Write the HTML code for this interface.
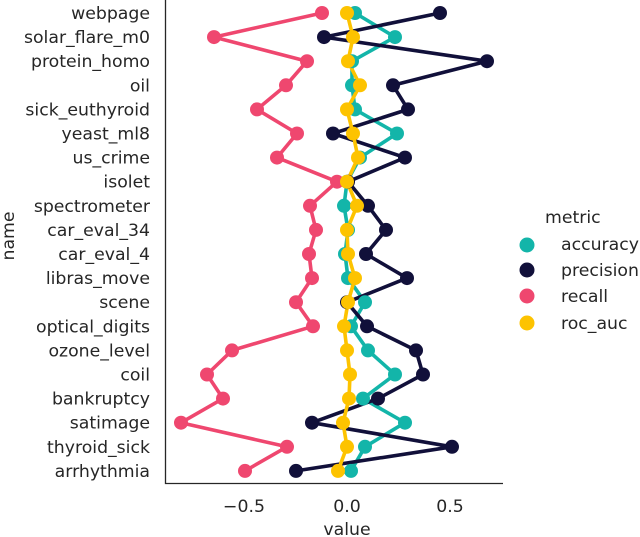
<!DOCTYPE html>
<html><head><meta charset="utf-8"><style>
html,body{margin:0;padding:0;background:#fff;}
svg{display:block;}
text{font-family:"DejaVu Sans","Liberation Sans",sans-serif;font-size:17.3px;fill:#262626;}
</style></head><body>
<svg width="640" height="537" viewBox="0 0 640 537" xmlns="http://www.w3.org/2000/svg">
<g text-anchor="end">
<text x="150" y="19">webpage</text>
<text x="150" y="43.1">solar_flare_m0</text>
<text x="150" y="67.2">protein_homo</text>
<text x="150" y="91.3">oil</text>
<text x="150" y="115.4">sick_euthyroid</text>
<text x="150" y="139.5">yeast_ml8</text>
<text x="150" y="163.6">us_crime</text>
<text x="150" y="187.7">isolet</text>
<text x="150" y="211.8">spectrometer</text>
<text x="150" y="235.9">car_eval_34</text>
<text x="150" y="260">car_eval_4</text>
<text x="150" y="284.1">libras_move</text>
<text x="150" y="308.2">scene</text>
<text x="150" y="332.3">optical_digits</text>
<text x="150" y="356.4">ozone_level</text>
<text x="150" y="380.5">coil</text>
<text x="150" y="404.6">bankruptcy</text>
<text x="150" y="428.7">satimage</text>
<text x="150" y="452.8">thyroid_sick</text>
<text x="150" y="476.9">arrhythmia</text>
</g>
<text x="14" y="236" text-anchor="middle" transform="rotate(-90 14 236)">name</text>
<g text-anchor="middle">
<text x="244" y="512">−0.5</text>
<text x="347" y="512">0.0</text>
<text x="450" y="512">0.5</text>
<text x="347" y="535">value</text>
</g>
<path d="M165.5 0 V483.5 H503" fill="none" stroke="#262626" stroke-width="1.3"/>

<g stroke-width="3.6" fill="none" stroke-linejoin="round">
<polyline stroke="#13b5a9" points="355,13 395,37.1 352,61.2 352,85.3 355,109.4 397,133.5 360,157.6 347,181.7 344,205.8 348,229.9 345,254 348,278.1 365,302.2 351,326.3 368,350.4 395,374.5 363,398.6 405,422.7 365,446.8 351,470.9"/>
<polyline stroke="#11103a" points="440,13 324,37.1 487,61.2 393,85.3 408,109.4 333,133.5 405,157.6 348,181.7 368,205.8 386,229.9 366,254 407,278.1 347,302.2 367,326.3 416,350.4 423,374.5 378,398.6 312,422.7 452,446.8 296,470.9"/>
<polyline stroke="#ef476f" points="322,13 214,37.1 307,61.2 286,85.3 257,109.4 297,133.5 277,157.6 337,181.7 310,205.8 316,229.9 309,254 312,278.1 296,302.2 313,326.3 232,350.4 207,374.5 223,398.6 181,422.7 287,446.8 245,470.9"/>
<polyline stroke="#fdc300" points="347,13 353,37.1 348,61.2 360,85.3 347,109.4 353,133.5 358,157.6 347,181.7 357,205.8 347,229.9 348,254 355,278.1 348,302.2 344,326.3 347,350.4 350,374.5 349,398.6 343,422.7 347,446.8 338,470.9"/>
</g>
<g fill="#13b5a9">
<circle cx="355" cy="13" r="7"/><circle cx="395" cy="37.1" r="7"/><circle cx="352" cy="61.2" r="7"/><circle cx="352" cy="85.3" r="7"/><circle cx="355" cy="109.4" r="7"/><circle cx="397" cy="133.5" r="7"/><circle cx="360" cy="157.6" r="7"/><circle cx="347" cy="181.7" r="7"/><circle cx="344" cy="205.8" r="7"/><circle cx="348" cy="229.9" r="7"/><circle cx="345" cy="254" r="7"/><circle cx="348" cy="278.1" r="7"/><circle cx="365" cy="302.2" r="7"/><circle cx="351" cy="326.3" r="7"/><circle cx="368" cy="350.4" r="7"/><circle cx="395" cy="374.5" r="7"/><circle cx="363" cy="398.6" r="7"/><circle cx="405" cy="422.7" r="7"/><circle cx="365" cy="446.8" r="7"/><circle cx="351" cy="470.9" r="7"/>
</g>
<g fill="#11103a">
<circle cx="440" cy="13" r="7"/><circle cx="324" cy="37.1" r="7"/><circle cx="487" cy="61.2" r="7"/><circle cx="393" cy="85.3" r="7"/><circle cx="408" cy="109.4" r="7"/><circle cx="333" cy="133.5" r="7"/><circle cx="405" cy="157.6" r="7"/><circle cx="348" cy="181.7" r="7"/><circle cx="368" cy="205.8" r="7"/><circle cx="386" cy="229.9" r="7"/><circle cx="366" cy="254" r="7"/><circle cx="407" cy="278.1" r="7"/><circle cx="347" cy="302.2" r="7"/><circle cx="367" cy="326.3" r="7"/><circle cx="416" cy="350.4" r="7"/><circle cx="423" cy="374.5" r="7"/><circle cx="378" cy="398.6" r="7"/><circle cx="312" cy="422.7" r="7"/><circle cx="452" cy="446.8" r="7"/><circle cx="296" cy="470.9" r="7"/>
</g>
<g fill="#ef476f">
<circle cx="322" cy="13" r="7"/><circle cx="214" cy="37.1" r="7"/><circle cx="307" cy="61.2" r="7"/><circle cx="286" cy="85.3" r="7"/><circle cx="257" cy="109.4" r="7"/><circle cx="297" cy="133.5" r="7"/><circle cx="277" cy="157.6" r="7"/><circle cx="337" cy="181.7" r="7"/><circle cx="310" cy="205.8" r="7"/><circle cx="316" cy="229.9" r="7"/><circle cx="309" cy="254" r="7"/><circle cx="312" cy="278.1" r="7"/><circle cx="296" cy="302.2" r="7"/><circle cx="313" cy="326.3" r="7"/><circle cx="232" cy="350.4" r="7"/><circle cx="207" cy="374.5" r="7"/><circle cx="223" cy="398.6" r="7"/><circle cx="181" cy="422.7" r="7"/><circle cx="287" cy="446.8" r="7"/><circle cx="245" cy="470.9" r="7"/>
</g>
<g fill="#fdc300">
<circle cx="347" cy="13" r="7"/><circle cx="353" cy="37.1" r="7"/><circle cx="348" cy="61.2" r="7"/><circle cx="360" cy="85.3" r="7"/><circle cx="347" cy="109.4" r="7"/><circle cx="353" cy="133.5" r="7"/><circle cx="358" cy="157.6" r="7"/><circle cx="347" cy="181.7" r="7"/><circle cx="357" cy="205.8" r="7"/><circle cx="347" cy="229.9" r="7"/><circle cx="348" cy="254" r="7"/><circle cx="355" cy="278.1" r="7"/><circle cx="348" cy="302.2" r="7"/><circle cx="344" cy="326.3" r="7"/><circle cx="347" cy="350.4" r="7"/><circle cx="350" cy="374.5" r="7"/><circle cx="349" cy="398.6" r="7"/><circle cx="343" cy="422.7" r="7"/><circle cx="347" cy="446.8" r="7"/><circle cx="338" cy="470.9" r="7"/>
</g>

<text x="545" y="223">metric</text>
<circle cx="527" cy="245" r="7.5" fill="#13b5a9"/>
<circle cx="527" cy="270" r="7.5" fill="#11103a"/>
<circle cx="527" cy="296" r="7.5" fill="#ef476f"/>
<circle cx="527" cy="323" r="7.5" fill="#fdc300"/>
<text x="561" y="250">accuracy</text>
<text x="561" y="276">precision</text>
<text x="561" y="302">recall</text>
<text x="561" y="329">roc_auc</text>
</svg>
</body></html>
